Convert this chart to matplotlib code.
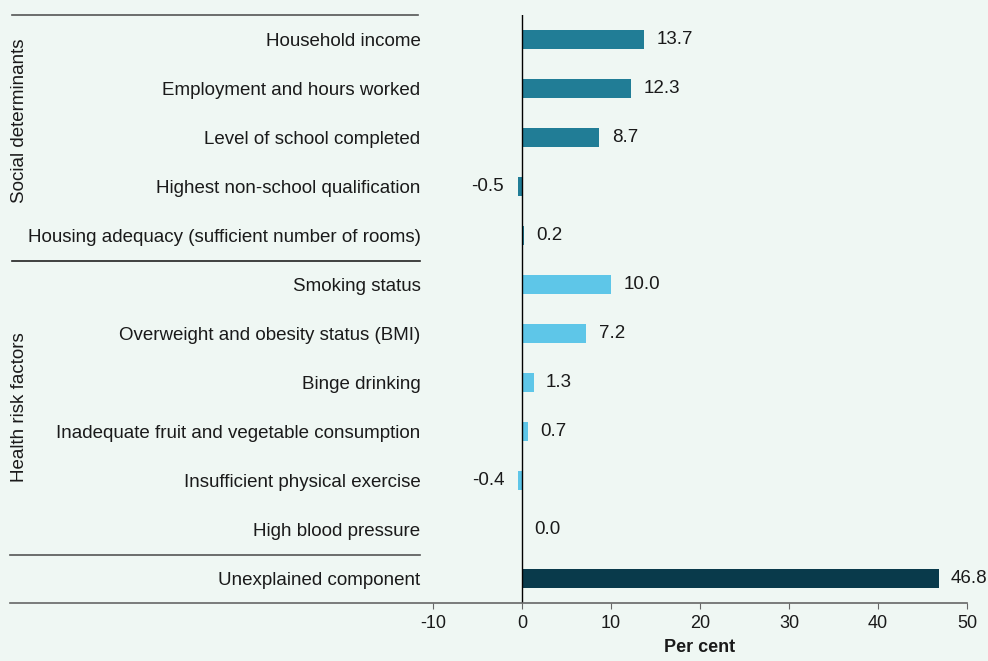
import matplotlib.pyplot as plt
from matplotlib.lines import Line2D

# Data
labels = [
    "Household income",
    "Employment and hours worked",
    "Level of school completed",
    "Highest non-school qualification",
    "Housing adequacy (sufficient number of rooms)",
    "Smoking status",
    "Overweight and obesity status (BMI)",
    "Binge drinking",
    "Inadequate fruit and vegetable consumption",
    "Insufficient physical exercise",
    "High blood pressure",
    "Unexplained component",
]
values = [13.7, 12.3, 8.7, -0.5, 0.2, 10.0, 7.2, 1.3, 0.7, -0.4, 0.0, 46.8]
groups = ["social"] * 5 + ["health"] * 6 + ["unexplained"]
group_titles = ["Social determinants", "Health risk factors"]
xticks = [-10, 0, 10, 20, 30, 40, 50]

colors = {"social": "#217d96", "health": "#5ec6e8", "unexplained": "#093a4b"}
bg = "#eff7f3"
txtc = "#1a1a1a"

plt.rcParams['font.family'] = ['Liberation Sans', 'DejaVu Sans']

W, H = 988, 661
fig = plt.figure(figsize=(W / 100, H / 100), dpi=100, facecolor=bg)

# axes placed in pixel coordinates
x0, x1 = 433, 967
ytop, ybot = 15, 603
ax = fig.add_axes([x0 / W, 1 - ybot / H, (x1 - x0) / W, (ybot - ytop) / H])
ax.set_facecolor(bg)

pos = list(range(len(labels)))
ax.barh(pos, values, height=0.4, color=[colors[g] for g in groups])
ax.set_xlim(-10, 50)
ax.set_ylim(len(labels) - 0.5, -0.5)
ax.axvline(0, color="black", lw=1)

for p, v in zip(pos, values):
    txt = f"{v:.1f}"
    if v < 0:
        ax.text(v - 1.6, p, txt, ha="right", va="center", fontsize=13.5, color=txtc)
    else:
        ax.text(v + 1.4, p, txt, ha="left", va="center", fontsize=13.5, color=txtc)

ax.set_yticks(pos)
ax.set_yticklabels(labels, fontsize=13.5, color=txtc)
ax.tick_params(axis="y", length=0, pad=9)
ax.set_xticks(xticks)
ax.set_xticklabels([str(t) for t in xticks], fontsize=13, color=txtc)
ax.tick_params(axis="x", length=4, color="#666666", pad=5)
for s in ax.spines.values():
    s.set_visible(False)
ax.set_xlabel("Per cent", fontsize=13, fontweight="bold", color=txtc, labelpad=5)

# separator lines (pixel coords)
def hline(y, xa, xb, c="#555555", lw=1.2):
    fig.add_artist(Line2D([xa / W, xb / W], [1 - y / H, 1 - y / H],
                          color=c, lw=lw, transform=fig.transFigure))

hline(15, 12, 418)
hline(261, 12, 420, c="#222222")
hline(555, 10, 420)
hline(603, 10, 967, c="#666666")

# group titles
fig.text(19 / W, 1 - 121 / H, group_titles[0], rotation=90, ha="center", va="center",
         fontsize=13.5, color=txtc)
fig.text(19 / W, 1 - 407 / H, group_titles[1], rotation=90, ha="center", va="center",
         fontsize=13.5, color=txtc)

fig.savefig("out.png", dpi=100, facecolor=bg)
